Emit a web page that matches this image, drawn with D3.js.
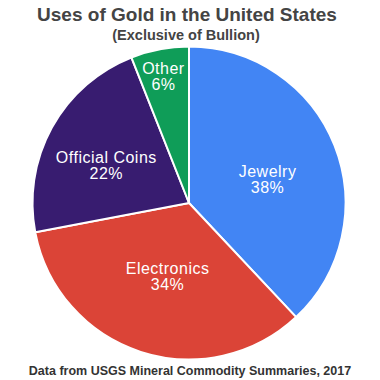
<!DOCTYPE html>
<html>
<head>
<meta charset="utf-8">
<script src="https://cdn.jsdelivr.net/npm/d3@7"></script>
<style>
  html, body { margin: 0; padding: 0; background: #fff; }
  svg { display: block; font-family: Arial, "Liberation Sans", Helvetica, sans-serif; }
</style>
</head>
<body>
<svg id="chart" width="380" height="380"></svg>
<script>
const categories = ["Jewelry", "Electronics", "Official Coins", "Other"];
const values = [38, 34, 22, 6];
const colors = ["#4285F4", "#DB4437", "#381C70", "#0F9D58"];
const title = "Uses of Gold in the United States";
const subtitle = "(Exclusive of Bullion)";
const footer = "Data from USGS Mineral Commodity Summaries, 2017";

// layout
const W = 380, H = 380;
const cx = 189, cy = 203, R = 156.5;
const labelRadiusFrac = [0.54, 0.443, 0.603, 0.872];

const svg = d3.select("#chart");

svg.append("text")
  .attr("x", 187).attr("y", 21)
  .attr("text-anchor", "middle")
  .attr("font-size", 19).attr("font-weight", "bold")
  .attr("fill", "#444")
  .text(title);

svg.append("text")
  .attr("x", 186).attr("y", 40)
  .attr("text-anchor", "middle")
  .attr("font-size", 14.5).attr("font-weight", "bold")
  .attr("fill", "#444")
  .text(subtitle);

svg.append("text")
  .attr("x", 190).attr("y", 375)
  .attr("text-anchor", "middle")
  .attr("font-size", 12.5).attr("font-weight", "bold")
  .attr("fill", "#333")
  .text(footer);

const data = categories.map((c, i) => ({ name: c, value: values[i], color: colors[i], idx: i }));
const pie = d3.pie().sort(null).value(d => d.value);
const arcs = pie(data);
const arc = d3.arc().innerRadius(0).outerRadius(R);

const g = svg.append("g").attr("transform", `translate(${cx},${cy})`);

g.selectAll("path.slice")
  .data(arcs)
  .join("path")
  .attr("class", "slice")
  .attr("d", arc)
  .attr("fill", d => d.data.color)
  .attr("stroke", "#fff")
  .attr("stroke-width", 2)
  .attr("stroke-linejoin", "round");

const total = d3.sum(values);
const labelPos = d => {
  const r = R * labelRadiusFrac[d.data.idx];
  const c = d3.arc().innerRadius(r).outerRadius(r).centroid(d);
  return [c[0], c[1] + 5.5];
};

g.selectAll("text.lbl1")
  .data(arcs)
  .join("text")
  .attr("class", "lbl1")
  .attr("text-anchor", "middle")
  .attr("font-size", 16)
  .attr("letter-spacing", 0.5)
  .attr("fill", "#fff")
  .attr("x", d => labelPos(d)[0])
  .attr("y", d => labelPos(d)[1])
  .text(d => d.data.name);

g.selectAll("text.lbl2")
  .data(arcs)
  .join("text")
  .attr("class", "lbl2")
  .attr("text-anchor", "middle")
  .attr("font-size", 16)
  .attr("letter-spacing", 0.5)
  .attr("fill", "#fff")
  .attr("x", d => labelPos(d)[0])
  .attr("y", d => labelPos(d)[1] + 16)
  .text(d => Math.round(d.data.value / total * 100) + "%");
</script>
</body>
</html>
